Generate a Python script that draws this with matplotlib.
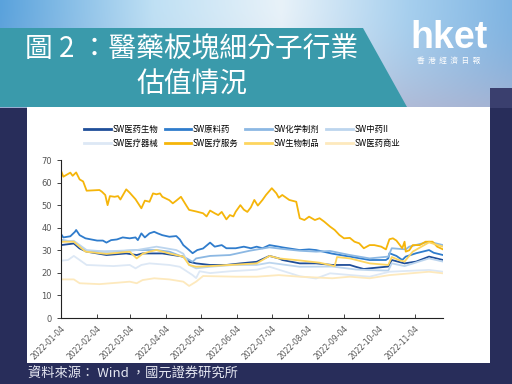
import matplotlib
matplotlib.use('Agg')
import matplotlib.pyplot as plt
import matplotlib.patches as mpatches
import numpy as np
import pandas as pd

# legend order / colours of the 8 SW indices
names = ['SW医药生物', 'SW原料药', 'SW化学制剂', 'SW中药II',
         'SW医疗器械', 'SW医疗服务', 'SW生物制品', 'SW医药商业']
colors = ['#1f4e99', '#2f7ccc', '#8cb8e3', '#bcd5ee',
          '#dde8f5', '#f5b50a', '#fdd55f', '#fde9bd']

tick_labels = ['2022-%02d-04' % m for m in range(1, 12)]

# values (PE, dates 2022)
yysw_dates = ['01-04', '01-15', '01-20', '01-26', '02-12', '03-01', '03-10', '03-15',
              '04-01', '04-10', '04-19', '04-24', '04-30', '05-12', '05-26', '06-07',
              '06-21', '07-02', '07-10', '07-13', '07-28', '08-11', '08-25', '09-09',
              '09-14', '09-21', '09-26', '10-12', '10-15', '10-26', '11-05', '11-16', '11-28']
yysw_vals = [32.3, 33.0, 30.8, 29.4, 27.9, 28.6, 27.9, 28.6,
             28.6, 27.9, 27.2, 24.9, 24.2, 23.5, 23.5, 24.2,
             24.9, 27.5, 26.4, 25.7, 24.2, 24.2, 23.5, 23.5,
             22.7, 21.7, 22.0, 22.8, 25.7, 24.2, 25.0, 27.2, 25.7]

ylyao_dates = ['01-04', '01-06', '01-12', '01-16', '01-17', '01-20', '01-25', '02-04',
               '02-09', '02-12', '02-16', '02-21', '02-26', '03-04', '03-09', '03-11',
               '03-14', '03-17', '03-21', '03-25', '03-28', '04-01', '04-07', '04-13',
               '04-16', '04-19', '04-24', '04-27', '05-01', '05-06', '05-12', '05-16',
               '05-22', '05-26', '06-03', '06-10', '06-16', '06-21', '06-26', '07-02',
               '07-10', '07-13', '07-28', '08-05', '08-11', '08-25', '09-09', '09-26',
               '10-10', '10-12', '10-13', '10-19', '10-24', '10-27', '11-05', '11-16',
               '11-20', '11-28']
ylyao_vals = [37.2, 35.7, 36.2, 38.2, 39.0, 36.7, 35.3, 34.3,
              34.3, 33.4, 34.5, 34.8, 35.7, 35.3, 35.7, 34.5,
              37.5, 35.7, 37.5, 38.2, 37.5, 36.7, 36.0, 36.3,
              34.8, 32.3, 30.1, 28.7, 30.1, 30.8, 33.4, 31.6,
              32.3, 30.9, 30.9, 31.6, 30.9, 31.6, 30.9, 32.3,
              31.6, 31.3, 30.1, 30.4, 30.1, 28.5, 27.2, 25.7,
              25.7, 26.4, 28.7, 27.5, 25.7, 27.2, 28.7, 30.1,
              28.9, 27.9]

hxzj_dates = ['01-04', '01-15', '01-20', '01-26', '02-18', '03-10', '03-27', '04-07',
              '04-22', '04-27', '04-30', '05-12', '05-29', '06-15', '07-02', '07-13',
              '07-28', '08-11', '08-23', '09-09', '09-26', '10-12', '10-15', '10-27',
              '10-30', '11-16', '11-28']
hxzj_vals = [34.6, 33.8, 31.6, 29.4, 29.4, 30.1, 30.1, 29.4,
             26.4, 24.9, 26.4, 27.5, 27.9, 29.8, 31.3, 30.6,
             29.8, 29.4, 29.7, 27.9, 26.4, 27.2, 30.9, 30.4,
             31.6, 33.8, 32.3]

zy_dates = ['01-04', '01-15', '01-26', '02-10', '03-10', '03-27', '04-13', '04-19',
            '04-24', '04-30', '05-12', '06-01', '06-21', '07-02', '07-28', '08-25',
            '09-14', '09-26', '10-12', '10-15', '10-26', '11-16', '11-28']
zy_vals = [34.0, 34.2, 30.1, 29.5, 30.1, 31.6, 30.1, 28.5,
           23.5, 22.0, 22.7, 23.5, 23.5, 24.5, 22.7, 22.8,
           21.5, 21.2, 21.0, 24.2, 23.0, 26.4, 25.0]

ylqx_dates = ['01-04', '01-10', '01-15', '01-20', '01-26', '02-18', '03-04', '03-09',
              '03-14', '03-21', '04-07', '04-16', '04-27', '04-30', '05-03', '05-12',
              '05-29', '06-21', '07-02', '07-28', '08-11', '08-23', '09-26', '10-13',
              '11-16', '11-28']
ylqx_vals = [25.4, 25.7, 27.5, 25.7, 23.5, 23.0, 23.5, 22.0,
             23.5, 24.2, 23.5, 22.7, 19.0, 17.7, 20.7, 19.9,
             20.7, 21.4, 22.7, 18.5, 17.5, 19.8, 18.3, 20.5,
             21.3, 20.5]

ylfw_dates = ['01-04', '01-06', '01-12', '01-14', '01-17', '01-20', '01-23', '01-26',
              '02-06', '02-08', '02-11', '02-13', '02-15', '02-19', '02-22', '02-24',
              '03-01', '03-04', '03-09', '03-14', '03-17', '03-21', '03-24', '03-27',
              '03-30', '04-01', '04-07', '04-10', '04-13', '04-17', '04-22', '04-24',
              '04-30', '05-06', '05-09', '05-12', '05-16', '05-19', '05-22', '05-26',
              '05-29', '06-01', '06-03', '06-07', '06-10', '06-13', '06-16', '06-19',
              '06-22', '06-26', '06-29', '07-04', '07-08', '07-10', '07-13', '07-19',
              '07-25', '07-28', '08-01', '08-05', '08-10', '08-14', '08-18', '08-23',
              '08-27', '08-31', '09-04', '09-09', '09-13', '09-17', '09-21', '09-26',
              '09-30', '10-06', '10-10', '10-13', '10-16', '10-19', '10-22', '10-24',
              '10-26', '10-27', '10-30', '11-02', '11-08', '11-13', '11-19', '11-23',
              '11-28']
ylfw_vals = [65.3, 62.6, 64.4, 63.0, 64.5, 61.4, 60.5, 56.4,
             56.7, 56.0, 54.5, 50.0, 54.0, 53.7, 54.0, 52.5,
             57.0, 55.5, 52.6, 48.6, 52.0, 51.5, 55.2, 54.8,
             55.2, 53.7, 52.2, 50.8, 52.0, 53.7, 49.5, 47.9,
             47.2, 46.4, 45.0, 47.6, 46.4, 45.6, 47.0, 43.7,
             45.6, 45.0, 47.1, 50.0, 48.0, 47.0, 49.0, 52.3,
             49.8, 52.3, 54.5, 57.5, 55.2, 53.3, 54.5, 52.3,
             51.5, 44.2, 43.4, 44.9, 43.4, 44.2, 42.7, 40.5,
             39.0, 36.8, 35.3, 35.5, 33.8, 33.1, 30.9, 32.3,
             32.3, 31.6, 30.4, 34.9, 35.3, 34.3, 32.3, 30.9,
             33.8, 29.4, 30.0, 32.3, 32.3, 33.8, 33.8, 31.6,
             30.4]

swzp_dates = ['01-04', '01-15', '01-20', '01-25', '02-12', '03-04', '03-10', '03-15',
              '03-21', '03-27', '04-07', '04-19', '04-24', '04-30', '05-12', '05-29',
              '06-21', '07-02', '07-10', '07-28', '08-14', '08-27', '08-29', '09-09',
              '09-26', '10-12', '10-15', '10-22', '10-26', '11-02', '11-16', '11-28']
swzp_vals = [33.8, 33.8, 31.6, 29.4, 28.4, 29.4, 26.4, 28.4,
             29.4, 30.1, 28.6, 27.2, 23.5, 22.7, 23.0, 23.5,
             24.2, 27.5, 26.4, 25.5, 24.5, 23.0, 27.0, 26.4,
             24.2, 23.5, 27.0, 25.5, 25.0, 29.4, 33.5, 31.6]

yysy_dates = ['01-04', '01-15', '01-20', '02-06', '02-23', '03-04', '03-10', '03-15',
              '03-25', '04-07', '04-19', '04-24', '04-30', '05-06', '06-03', '06-21',
              '07-10', '07-28', '08-25', '09-09', '09-26', '10-13', '11-16', '11-28']
yysy_vals = [17.1, 17.1, 15.4, 15.0, 15.7, 16.1, 15.4, 16.8,
             17.6, 17.1, 16.1, 14.2, 16.1, 18.6, 18.3, 18.3,
             19.0, 18.3, 17.6, 18.3, 17.6, 19.0, 20.5, 19.8]

series = [(yysw_dates, yysw_vals), (ylyao_dates, ylyao_vals), (hxzj_dates, hxzj_vals),
          (zy_dates, zy_vals), (ylqx_dates, ylqx_vals), (ylfw_dates, ylfw_vals),
          (swzp_dates, swzp_vals), (yysy_dates, yysy_vals)]

W, H = 512, 384
fig = plt.figure(figsize=(W / 100, H / 100), dpi=100)
navy = '#282d5a'
fig.patch.set_facecolor(navy)


def hex2rgb(h):
    return np.array([int(h[i:i + 2], 16) for i in (1, 3, 5)]) / 255.0


# background: blue/white gradient band at the top, navy below
bg = np.zeros((H, W, 3))
bg[:, :] = hex2rgb(navy)
xs = np.linspace(0, 1, W)
stops = [0.0, 0.3, 0.55, 0.8, 1.0]
cols = [hex2rgb(c) for c in ['#5aa2dc', '#bfe0f4', '#e8f2f9', '#a6cfee', '#7fb4e2']]
top = np.stack([np.interp(xs, stops, [c[k] for c in cols]) for k in range(3)], axis=1)
lav = hex2rgb('#b3b1cc')
band_h = 108
for yy in range(band_h):
    t = (yy / band_h) ** 2 * 0.7
    bg[yy, :] = top * (1 - t) + lav * t
bg[88:band_h, 490:] = hex2rgb('#3a3f6e')
bgax = fig.add_axes([0, 0, 1, 1])
bgax.imshow(bg, aspect='auto', extent=[0, W, H, 0])
bgax.set_xlim(0, W)
bgax.set_ylim(H, 0)
bgax.axis('off')

# white chart panel
bgax.add_patch(mpatches.Rectangle((27, 107), 463, 256, facecolor='white', edgecolor='none'))
# teal title banner
bgax.add_patch(mpatches.Polygon([(0, 28), (363, 28), (407, 107), (0, 107)],
                                closed=True, facecolor='#3a9aab', edgecolor='none'))

title_font = ['Noto Sans CJK TC', 'DejaVu Sans']
bgax.text(192, 50, '圖 2 ：醫藥板塊細分子行業', color='white', fontsize=20,
          family=title_font, fontweight='light', ha='center', va='center')
bgax.text(192, 85, '估值情況', color='white', fontsize=20,
          family=title_font, fontweight='light', ha='center', va='center')

# hket logo
bgax.text(449, 38, 'hket', color='white', fontsize=27, fontweight='bold',
          family='Liberation Sans', ha='center', va='center')
bgax.text(449, 61, '香  港  經  濟  日  報', color='white', fontsize=5.5,
          family=title_font, ha='center', va='center')

# source
bgax.text(28, 374, '資料來源： Wind ，國元證券研究所', color='#e6e8f2', fontsize=9.5,
          family=title_font, fontweight='light', ha='left', va='center')

# main chart
ax = fig.add_axes([61 / W, 1 - 318 / H, (443 - 61) / W, (318 - 160) / H])
ax.set_facecolor('white')
lines = []
for name, c, (d, v) in zip(names, colors, series):
    dts = pd.to_datetime(['2022-' + s for s in d])
    ln, = ax.plot(dts, v, color=c, lw=1.3, label=name)
    lines.append(ln)

ax.set_ylim(0, 70)
ax.set_yticks(range(0, 71, 10))
ax.set_xlim(pd.Timestamp('2022-01-04'), pd.Timestamp('2022-11-28'))
ax.set_xticks(pd.to_datetime(tick_labels))
ax.set_xticklabels(tick_labels, rotation=45, ha='right', rotation_mode='anchor')
for s in ['top', 'right']:
    ax.spines[s].set_visible(False)
for s in ['left', 'bottom']:
    ax.spines[s].set_color('#222222')
    ax.spines[s].set_linewidth(0.8)
ax.tick_params(axis='y', labelsize=6, colors='#222222', labelcolor='#555555', length=3, width=0.6)
ax.tick_params(axis='x', labelsize=5.5, colors='#222222', labelcolor='#555555', direction='in',
               length=3, width=0.6, pad=4)

# legend is filled row by row (4 per row)
order = [0, 4, 1, 5, 2, 6, 3, 7]
leg = fig.legend([lines[i] for i in order], [names[i] for i in order],
                 loc='center', bbox_to_anchor=(242 / W, 1 - 136 / H), ncol=4, frameon=False,
                 prop={'family': ['Noto Sans CJK SC', 'DejaVu Sans'], 'size': 6},
                 handlelength=3.2, columnspacing=0.8, handletextpad=0.2, labelspacing=0.6)
for line in leg.get_lines():
    line.set_linewidth(2)

fig.savefig('out.png', dpi=100, facecolor=fig.get_facecolor())
